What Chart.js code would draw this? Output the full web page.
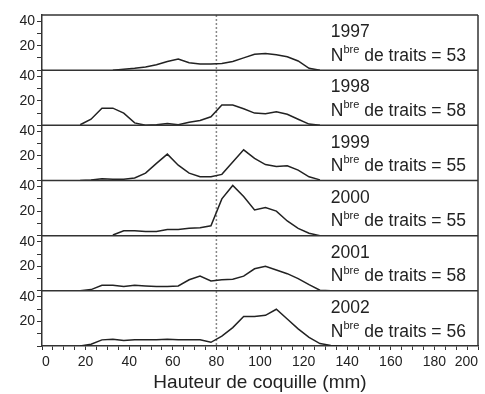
<!DOCTYPE html>
<html>
<head>
<meta charset="utf-8">
<script src="https://cdn.jsdelivr.net/npm/chart.js@4.4.3/dist/chart.umd.min.js"></script>
<style>
    html, body { margin: 0; padding: 0; background: #fff; }
    #wrap { position: relative; width: 485px; height: 394px; }
</style>
</head>
<body>
<div id="wrap"><canvas id="chart"></canvas></div>
<script>
// shell height classes (mm), bin centres
const hauteur = [12.5, 17.5, 22.5, 27.5, 32.5, 37.5, 42.5, 47.5, 52.5, 57.5, 62.5, 67.5, 72.5,
                 77.5, 82.5, 87.5, 92.5, 97.5, 102.5, 107.5, 112.5, 117.5, 122.5, 127.5, 132.5, 137.5];

const annees = ['1997', '1998', '1999', '2000', '2001', '2002'];
const nbTraits = [53, 58, 55, 55, 58, 56];

// null = class not drawn in the original figure
const freq1997 = [null, null, null, null, 0, 0.8, 1.5, 2.5, 4.5, 7, 9, 6, 5, 5, 5.5, 7, 10, 13, 13.5, 12.5, 11, 7.5, 1.5, 0, null, null];
const freq1998 = [null, 0.5, 5, 14, 14, 10, 2, 0, 0.5, 1.5, 0.5, 2.5, 4, 7, 16.5, 16.5, 13.5, 10, 9.5, 11, 9, 5, 1, 0, null, null];
const freq1999 = [null, 0, 0.5, 1.5, 1, 1, 2, 6, 14, 21.5, 12.5, 6, 3, 3, 5, 15, 25, 18, 13, 11.5, 12, 8.5, 3, 0.5, null, null];
const freq2000 = [null, null, null, null, 0.5, 4, 4, 3.5, 3.5, 5, 5, 6, 6.5, 8, 30, 41, 32, 21, 23, 20, 12, 6, 2, 0, null, null];
const freq2001 = [null, 0, 1, 4.5, 4.5, 3.5, 4.5, 4, 3.5, 3.5, 4, 9, 12, 8, 9, 9.5, 12, 18, 20, 17, 14, 10, 5, 0.5, 0, null];
const freq2002 = [null, 0, 1.5, 5, 5.5, 4.5, 5, 5, 5, 5.5, 5, 5, 5, 3, 8, 15, 24, 24, 25, 30, 22, 14, 7, 2, 0.5, 0];

const series = [freq1997, freq1998, freq1999, freq2000, freq2001, freq2002];

const seuil = 80;          // dashed reference line
const yLabels = [20, 40];  // labelled y ticks in each panel
const xMin = 0, xMax = 200, xLabelStep = 20;

const FONT = '"Liberation Sans", Arial, Helvetica, sans-serif';
const INK = '#222';

const panelsPlugin = {
    id: 'panels',
    beforeDatasetsDraw(chart) {
        const { ctx, chartArea, scales } = chart;
        const x = scales.x.getPixelForValue(seuil);
        ctx.save();
        ctx.strokeStyle = '#888';
        ctx.lineWidth = 1.5;
        ctx.setLineDash([2, 2]);
        ctx.beginPath();
        ctx.moveTo(x, chartArea.top);
        ctx.lineTo(x, chartArea.bottom);
        ctx.stroke();
        ctx.restore();
    },
    afterDraw(chart) {
        const { ctx, chartArea, scales } = chart;
        const xs = scales.x;
        ctx.save();
        ctx.strokeStyle = '#333';
        ctx.lineWidth = 1.5;
        // right border
        ctx.beginPath();
        ctx.moveTo(chartArea.right, chartArea.top);
        ctx.lineTo(chartArea.right, chartArea.bottom);
        ctx.stroke();

        const tx = xs.getPixelForValue(132.5);
        annees.forEach((an, i) => {
            const s = scales['y' + an];
            ctx.beginPath();
            ctx.moveTo(chartArea.left, s.top);
            ctx.lineTo(chartArea.right, s.top);
            ctx.stroke();

            ctx.fillStyle = INK;
            ctx.textAlign = 'left';
            ctx.textBaseline = 'middle';
            ctx.font = '17.5px ' + FONT;
            ctx.fillText(an, tx, s.top + 17.5);

            const y2 = s.top + 41;
            ctx.fillText('N', tx, y2);
            let cx = tx + ctx.measureText('N').width;
            ctx.font = '11px ' + FONT;
            ctx.fillText('bre', cx, y2 - 6);
            cx += ctx.measureText('bre').width;
            ctx.font = '17.5px ' + FONT;
            ctx.fillText(' de traits = ' + nbTraits[i], cx, y2);
        });
        ctx.restore();
    }
};

const scales = {
    x: {
        type: 'linear',
        min: xMin,
        max: xMax,
        afterFit: s => { s.height = 48; s.paddingRight = 0; },
        border: { display: true, color: '#333', width: 1.5 },
        grid: { drawOnChartArea: false, drawTicks: true, tickLength: 4, color: '#333' },
        ticks: {
            stepSize: 5,
            autoSkip: false,
            maxRotation: 0,
            align: 'inner',
            padding: 4,
            color: INK,
            font: { family: FONT, size: 14 },
            callback: v => (v % xLabelStep === 0 ? String(v) : '')
        },
        title: {
            display: true,
            text: 'Hauteur de coquille (mm)',
            color: INK,
            font: { family: FONT, size: 19 },
            padding: { top: 0, bottom: 0 }
        }
    }
};

// define bottom panel first: the last defined left axis is stacked on top
annees.slice().reverse().forEach(an => {
    scales['y' + an] = {
        type: 'linear',
        position: 'left',
        stack: 'panels',
        stackWeight: 1,
        min: 0,
        max: 45,
        afterFit: s => { s.width = 42; },
        border: { display: true, color: '#333', width: 1.5 },
        grid: { drawOnChartArea: false, drawTicks: true, tickLength: 5, color: '#333' },
        ticks: {
            stepSize: 10,
            includeBounds: false,
            autoSkip: false,
            padding: 2,
            color: INK,
            font: { family: FONT, size: 14 },
            callback: v => (yLabels.includes(v) ? String(v) : '')
        }
    };
});

const datasets = annees.map((an, i) => ({
    label: an,
    yAxisID: 'y' + an,
    data: hauteur.map((h, k) => ({ x: h, y: series[i][k] })),
    borderColor: INK,
    borderWidth: 1.5,
    pointRadius: 0,
    tension: 0,
    fill: false,
    spanGaps: false
}));

new Chart(document.getElementById('chart'), {
    type: 'line',
    data: { datasets },
    options: {
        responsive: true,
        maintainAspectRatio: false,
        animation: false,
        layout: { padding: { top: 15, right: 7, left: 0, bottom: 0 } },
        plugins: { legend: { display: false }, tooltip: { enabled: false } },
        scales
    },
    plugins: [panelsPlugin]
});
</script>
</body>
</html>
